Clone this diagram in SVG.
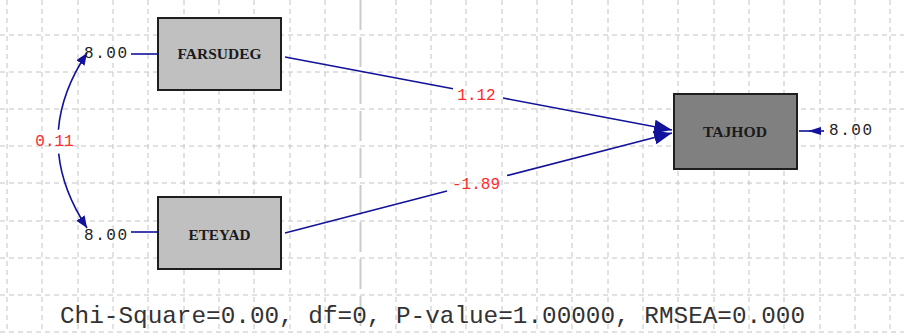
<svg xmlns="http://www.w3.org/2000/svg" width="904" height="333" viewBox="0 0 904 333">
<style>
.grid line{stroke:#c4c4c4;stroke-width:1;stroke-dasharray:5,4}
.box{stroke:#1e1e1e;stroke-width:2}
.lbl{font-family:"Liberation Serif","DejaVu Serif",serif;font-weight:bold;font-size:14px;fill:#1a1a1a;text-anchor:middle;dominant-baseline:central}
.val{font-family:"Liberation Mono","DejaVu Sans Mono",monospace;font-size:16px;fill:#222;dominant-baseline:central}
.est{font-family:"Liberation Mono","DejaVu Sans Mono",monospace;font-size:16px;fill:#ff2a2a;dominant-baseline:central}
.edge{stroke:#12129a;stroke-width:1.6;fill:none}
.fit{font-family:"Liberation Mono","DejaVu Sans Mono",monospace;font-size:24px;fill:#333}
</style>
<defs>
<marker id="big" markerUnits="userSpaceOnUse" markerWidth="20" markerHeight="14" refX="18" refY="7" orient="auto">
<path d="M0,0 L18,7 L0,14 Z" fill="#12129a"/>
</marker>
<marker id="small" markerUnits="userSpaceOnUse" markerWidth="14" markerHeight="10" refX="12" refY="5" orient="auto-start-reverse">
<path d="M0,0 L12,5 L0,10 Z" fill="#12129a"/>
</marker>
</defs>
<rect width="904" height="333" fill="#ffffff"/>
<g class="grid">
<line x1="0" y1="35" x2="904" y2="35"/>
<line x1="0" y1="72" x2="904" y2="72"/>
<line x1="0" y1="109" x2="904" y2="109"/>
<line x1="0" y1="146" x2="904" y2="146"/>
<line x1="0" y1="183" x2="904" y2="183"/>
<line x1="0" y1="221" x2="904" y2="221"/>
<line x1="0" y1="258" x2="904" y2="258"/>
<line x1="0" y1="295" x2="904" y2="295"/>
<line x1="0" y1="332" x2="904" y2="332"/>
<line x1="7" y1="0" x2="7" y2="333"/>
<line x1="42" y1="0" x2="42" y2="333"/>
<line x1="78" y1="0" x2="78" y2="333"/>
<line x1="113" y1="0" x2="113" y2="333"/>
<line x1="148" y1="0" x2="148" y2="333"/>
<line x1="184" y1="0" x2="184" y2="333"/>
<line x1="219" y1="0" x2="219" y2="333"/>
<line x1="254" y1="0" x2="254" y2="333"/>
<line x1="290" y1="0" x2="290" y2="333"/>
<line x1="325" y1="0" x2="325" y2="333"/>
<line x1="396" y1="0" x2="396" y2="333"/>
<line x1="431" y1="0" x2="431" y2="333"/>
<line x1="466" y1="0" x2="466" y2="333"/>
<line x1="502" y1="0" x2="502" y2="333"/>
<line x1="537" y1="0" x2="537" y2="333"/>
<line x1="572" y1="0" x2="572" y2="333"/>
<line x1="608" y1="0" x2="608" y2="333"/>
<line x1="643" y1="0" x2="643" y2="333"/>
<line x1="678" y1="0" x2="678" y2="333"/>
<line x1="714" y1="0" x2="714" y2="333"/>
<line x1="749" y1="0" x2="749" y2="333"/>
<line x1="784" y1="0" x2="784" y2="333"/>
<line x1="820" y1="0" x2="820" y2="333"/>
<line x1="855" y1="0" x2="855" y2="333"/>
<line x1="890" y1="0" x2="890" y2="333"/>
</g>
<line x1="360.5" y1="0" x2="360.5" y2="333" stroke="#cccccc" stroke-width="2" stroke-dasharray="30,7"/>
<g id="connectors">
<path class="edge" d="M285,57 L453,88.7"/>
<path class="edge" d="M503,98 L672,130" marker-end="url(#big)"/>
<path class="edge" d="M285,233 L447,191"/>
<path class="edge" d="M507,175.6 L672,133" marker-end="url(#big)"/>
<path class="edge" d="M58.4,129.8 Q61.5,91.3 87,53" marker-end="url(#small)"/>
<path class="edge" d="M58.7,153.7 Q62.5,190.8 87,228" marker-end="url(#small)"/>
<line class="edge" x1="131" y1="54" x2="158" y2="54"/>
<line class="edge" x1="131" y1="232" x2="158" y2="232"/>
<line class="edge" x1="799" y1="131" x2="824" y2="131"/>
<path d="M808,131 L821,127 L821,135 Z" fill="#12129a"/>
<text class="est" x="476.5" y="96" text-anchor="middle">1.12</text>
<text class="est" x="476" y="185" text-anchor="middle">-1.89</text>
<text class="est" x="54.5" y="142" text-anchor="middle">0.11</text>
</g>
<g id="FARSUDEG">
<rect class="box" x="158" y="18" width="123" height="72" fill="#c0c0c0"/>
<text class="lbl" x="219.5" y="54" textLength="84" lengthAdjust="spacingAndGlyphs">FARSUDEG</text>
<text class="val" x="84" y="54" textLength="43" lengthAdjust="spacing">8.00</text>
</g>
<g id="ETEYAD">
<rect class="box" x="158" y="197" width="123" height="72" fill="#c0c0c0"/>
<text class="lbl" x="219.5" y="235" textLength="62" lengthAdjust="spacingAndGlyphs">ETEYAD</text>
<text class="val" x="84" y="236" textLength="43" lengthAdjust="spacing">8.00</text>
</g>
<g id="TAJHOD">
<rect class="box" x="674" y="94" width="123" height="75" fill="#808080"/>
<text class="lbl" x="735" y="132" textLength="64" lengthAdjust="spacingAndGlyphs">TAJHOD</text>
<text class="val" x="829" y="131" textLength="43" lengthAdjust="spacing">8.00</text>
</g>
<text class="fit" x="60" y="323" textLength="745" lengthAdjust="spacingAndGlyphs">Chi-Square=0.00, df=0, P-value=1.00000, RMSEA=0.000</text>
</svg>
